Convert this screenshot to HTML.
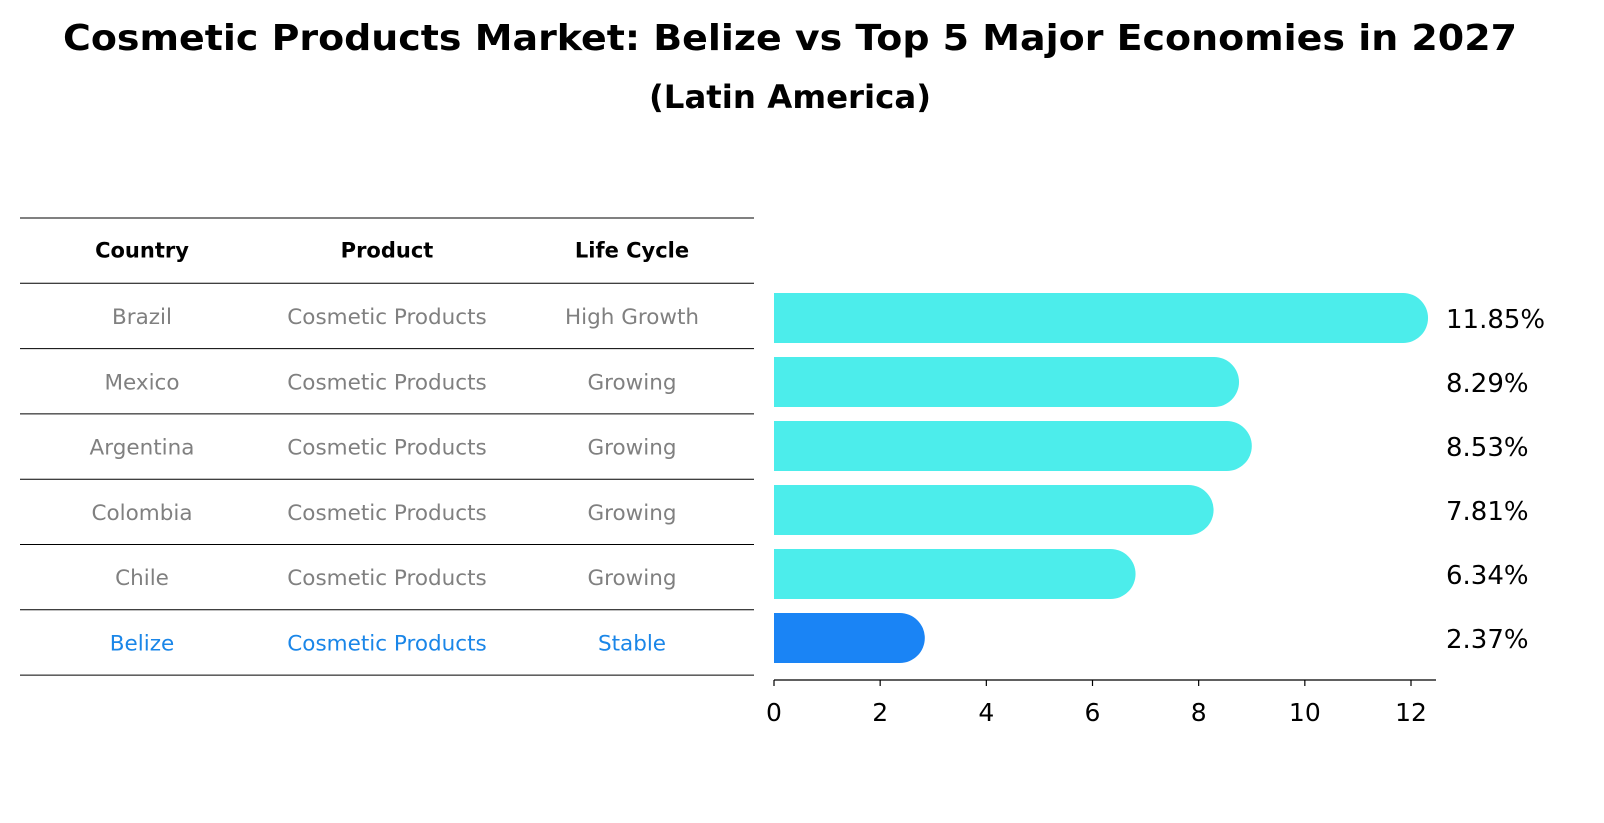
<!DOCTYPE html>
<html><head><meta charset="utf-8">
<style>
body{margin:0;background:#fff;font-family:"DejaVu Sans","Liberation Sans",sans-serif;}
#wrap{position:relative;width:1604px;height:823px;overflow:hidden;}
</style></head>
<body>
<div id="wrap">
<svg id="svg" width="1604" height="823" xmlns="http://www.w3.org/2000/svg">
<text x="790" y="50" text-anchor="middle" font-family="DejaVu Sans, sans-serif" font-weight="bold" font-size="36" textLength="1454" lengthAdjust="spacingAndGlyphs">Cosmetic Products Market: Belize vs Top 5 Major Economies in 2027</text>
<text x="790" y="108" text-anchor="middle" font-family="DejaVu Sans, sans-serif" font-weight="bold" font-size="32" textLength="282" lengthAdjust="spacingAndGlyphs">(Latin America)</text>
<g id="table"></g>
<g id="bars"></g>
</svg>
</div>
<script>
const countries=["Brazil","Mexico","Argentina","Colombia","Chile","Belize"];
const products=["Cosmetic Products","Cosmetic Products","Cosmetic Products","Cosmetic Products","Cosmetic Products","Cosmetic Products"];
const lifeCycles=["High Growth","Growing","Growing","Growing","Growing","Stable"];
const values=[11.85,8.29,8.53,7.81,6.34,2.37];
const xTicks=[0,2,4,6,8,10,12];

const NS="http://www.w3.org/2000/svg";
function mk(tag,attrs,parent){const e=document.createElementNS(NS,tag);for(const k in attrs)e.setAttribute(k,attrs[k]);parent.appendChild(e);return e;}
const tbl=document.getElementById('table');
const bars=document.getElementById('bars');
const font="DejaVu Sans, sans-serif";

const rowTop=218,rowH=65.3,colX=[142,387,632];
const hdr=["Country","Product","Life Cycle"];
for(let i=0;i<=countries.length+1;i++){
  const l=mk('line',{x1:20,x2:754,y1:rowTop+i*rowH,y2:rowTop+i*rowH,stroke:'#000','stroke-width':1},tbl);
  
  
}
hdr.forEach((h,j)=>{
  const t=mk('text',{x:colX[j],y:rowTop+rowH/2+7,'text-anchor':'middle','font-size':21,'font-weight':'bold','font-family':font},tbl);
  t.textContent=h;
  
  
});
countries.forEach((c,i)=>{
  const y=rowTop+(i+1)*rowH+rowH/2+8;
  const col=c==="Belize"?'#1a86e8':'#808080';
  [c,products[i],lifeCycles[i]].forEach((v,j)=>{
    const t=mk('text',{x:colX[j],y:y,'text-anchor':'middle','font-size':21.5,fill:col,'font-family':font},tbl);
    t.textContent=v;
    
    
  });
});

const x0=774,pxPer=(1411-774)/12;
const xs=v=>x0+v*pxPer;
const barH=50,r=25;
const centers=i=>318+i*64;
values.forEach((v,i)=>{
  const cy=centers(i);
  const col=countries[i]==="Belize"?'#1a84f5':'#4cedeb';
  const p=mk('path',{d:`M${x0},${cy-barH/2} H${xs(v)} A${r},${r} 0 0 1 ${xs(v)},${cy+barH/2} H${x0} Z`,fill:col},bars);
  
  
  const t=mk('text',{x:1446,y:cy+10,'font-size':26,'font-family':font},bars);
  t.textContent=v.toFixed(2)+'%';
  
  
});
const ax=mk('line',{x1:x0,x2:1436,y1:680,y2:680,stroke:'#000','stroke-width':1.2},bars);


xTicks.forEach(tv=>{
  const l=mk('line',{x1:xs(tv),x2:xs(tv),y1:680,y2:686,stroke:'#000','stroke-width':1.2},bars);
  
  
  const t=mk('text',{x:xs(tv),y:721,'text-anchor':'middle','font-size':25,'font-family':font},bars);
  t.textContent=tv;
  
  
});
</script>
</body></html>
